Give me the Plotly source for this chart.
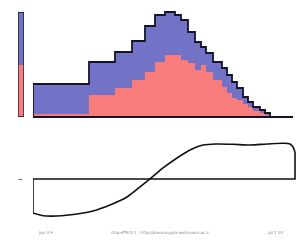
import plotly.graph_objects as go

# ---- top panel: stacked step histogram (bin edges in x units) ----
bin_edges = [0, 56, 82, 99, 112, 122, 132, 142, 148, 155, 162, 168, 173, 180,
             189, 194, 199, 204, 210, 215, 220, 227, 232, 237]
total_counts = [32, 54, 64, 75, 90, 101, 104, 101, 96, 84, 74, 69, 63,
                54, 48, 41, 34, 28, 19, 14, 9, 6, 3]
red_counts = [2, 21, 28, 36, 44, 54, 61, 61, 56, 53, 46, 51, 44,
              36, 29, 23, 18, 16, 12, 9, 5, 3, 1]

# ---- side bar: overall fractions ----
side_red = 0.495
side_blue = 0.505

# ---- bottom panel: cumulative difference curve ----
curve_x = [0, 10, 24, 44, 60, 77, 94, 107, 117, 130, 144, 157, 170, 184,
           200, 217, 234, 250, 257, 260, 262]
curve_y = [-0.944, -1.019, -1.028, -0.972, -0.889, -0.722, -0.5, -0.222, 0.0,
           0.306, 0.583, 0.806, 0.944, 0.972, 0.964, 0.944, 0.972, 0.992,
           0.972, 0.889, 0.75]

footer_left = "Jun 3 9"
footer_mid = "GraceTM 5.1 - http://plasma-gate.weizmann.ac.il"
footer_right = "Jul 1 03"

BLUE = "#7272c6"
RED = "#f87c7c"
INK = "#141428"

def steps(edges, vals):
    xs = [edges[0]] + list(edges)
    ys = [0] + list(vals) + [0]
    return xs, ys

fig = go.Figure()

sx, sy_tot = steps(bin_edges, total_counts)
_, sy_red = steps(bin_edges, red_counts)

fig.add_trace(go.Scatter(x=sx, y=sy_tot, mode="lines", line_shape="hv",
                         fill="tozeroy", fillcolor=BLUE, line=dict(width=0, color=BLUE),
                         xaxis="x", yaxis="y", hoverinfo="skip"))
fig.add_trace(go.Scatter(x=sx, y=sy_red, mode="lines", line_shape="hv",
                         fill="tozeroy", fillcolor=RED, line=dict(width=0, color=RED),
                         xaxis="x", yaxis="y", hoverinfo="skip"))
fig.add_trace(go.Scatter(x=sx, y=sy_tot, mode="lines", line_shape="hv",
                         line=dict(width=1.8, color=INK),
                         xaxis="x", yaxis="y", hoverinfo="skip"))

# side bar
fig.add_trace(go.Bar(x=[0], y=[side_red], width=1, marker=dict(color=RED, line=dict(width=0)),
                     xaxis="x3", yaxis="y3", hoverinfo="skip"))
fig.add_trace(go.Bar(x=[0], y=[side_blue], width=1, marker=dict(color=BLUE, line=dict(width=0)),
                     xaxis="x3", yaxis="y3", hoverinfo="skip"))
fig.add_trace(go.Scatter(x=[-0.5, -0.5, 0.5, 0.5, -0.5],
                         y=[0, side_red + side_blue, side_red + side_blue, 0, 0],
                         mode="lines", line=dict(width=1.3, color=INK),
                         xaxis="x3", yaxis="y3", hoverinfo="skip"))

# bottom curve (smooth) plus closing lines to the zero level
fig.add_trace(go.Scatter(x=curve_x, y=curve_y, mode="lines", line_shape="spline",
                         line=dict(width=1.6, color="#111111", smoothing=0.8),
                         xaxis="x2", yaxis="y2", hoverinfo="skip"))
fig.add_trace(go.Scatter(x=[curve_x[0], curve_x[0], curve_x[-1], curve_x[-1]],
                         y=[curve_y[0], 0, 0, curve_y[-1]],
                         mode="lines", line=dict(width=1.6, color="#111111"),
                         xaxis="x2", yaxis="y2", hoverinfo="skip"))

W = 282
fig.update_layout(
    width=298, height=242,
    margin=dict(l=14, r=2, t=10, b=22),
    paper_bgcolor="white", plot_bgcolor="rgba(0,0,0,0)",
    showlegend=False, barmode="stack",
    xaxis=dict(domain=[19 / W, 279 / W], range=[0, 260], showgrid=False, zeroline=False,
               showline=True, linecolor=INK, linewidth=1.5, showticklabels=False,
               ticks="", anchor="y"),
    yaxis=dict(domain=[104 / 210, 1], range=[0, 106], showgrid=False, zeroline=False,
               showline=False, showticklabels=False, ticks="", anchor="x"),
    xaxis2=dict(domain=[19 / W, 1], range=[0, 263], showgrid=False, zeroline=False,
                showline=False, showticklabels=False, ticks="", anchor="y2"),
    yaxis2=dict(domain=[0, 80 / 210], range=[-1.139, 1.083], showgrid=False,
                zeroline=False, showline=False, showticklabels=False, ticks="",
                anchor="x2"),
    xaxis3=dict(domain=[4 / W, 10 / W], range=[-0.5, 0.5], showgrid=False,
                zeroline=False, showline=False, showticklabels=False, ticks="",
                anchor="y3"),
    yaxis3=dict(domain=[103 / 210, 208 / 210], range=[0, 1.0], showgrid=False,
                zeroline=False, showline=False, showticklabels=False, ticks="",
                anchor="x3"),
    annotations=[
        dict(text="–", x=0, xref="x2", xanchor="right", xshift=-8, y=0, yref="y2",
             showarrow=False, font=dict(size=9, color="#111111", family="DejaVu Sans")),
        dict(text=footer_left, x=0.078, xref="paper", y=-0.08, yref="paper",
             showarrow=False, font=dict(size=4, color="#888888", family="DejaVu Sans")),
        dict(text=footer_mid, x=0.518, xref="paper", y=-0.08, yref="paper",
             showarrow=False, font=dict(size=4, color="#888888", family="DejaVu Sans")),
        dict(text=footer_right, x=0.96, xref="paper", y=-0.08, yref="paper",
             showarrow=False, font=dict(size=4, color="#888888", family="DejaVu Sans")),
    ],
)

fig.write_html("out.html", config={"displayModeBar": False, "staticPlot": True},
               post_script="document.body.style.margin='0';document.body.style.overflow='hidden';")
